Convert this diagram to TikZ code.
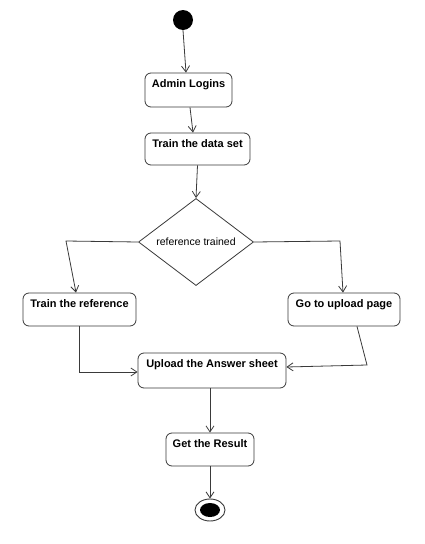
\documentclass[tikz,border=0pt]{standalone}
\usepackage{fontspec}
\setmainfont{Liberation Sans}
\usetikzlibrary{shapes.geometric,arrows.meta}
\definecolor{ln}{HTML}{3A3A3A}
\tikzset{
  act/.style={draw=ln, line width=0.8pt, fill=white, rounded corners=6pt, inner sep=3pt,
    text height=11pt, text depth=17pt, font=\bfseries\fontsize{11}{13}\selectfont, align=center},
  dec/.style={draw=ln, line width=0.8pt, fill=white, diamond, inner sep=0pt,
    font=\fontsize{10.5}{12}\selectfont},
  arr/.style={draw=ln, line width=0.8pt, -{Straight Barb[length=6pt,width=8pt]}},
}
\begin{document}
\begin{tikzpicture}[x=1pt,y=-1pt]
\useasboundingbox (0,0) rectangle (425,544);
\fill[white] (0,0) rectangle (425,544);
% start and end
\node[circle, fill=black, minimum size=20pt, inner sep=0pt] (start) at (183,20) {};
\node[act, minimum width=87pt, minimum height=34pt] (admin) at (188.5,90) {Admin Logins};
\node[act, minimum width=105pt, minimum height=32pt, text depth=15pt] (train) at (197.5,149) {Train the data set};
\node[dec, minimum width=115pt, minimum height=85pt] (d) at (196,242) {reference trained};
\node[act, minimum width=113pt, minimum height=33pt, text depth=16pt] (tref) at (79.5,309.5) {Train the reference};
\node[act, minimum width=112pt, minimum height=33pt, text depth=16pt] (goup) at (344,309.5) {Go to upload page};
\node[act, minimum width=148pt, minimum height=35pt, text depth=18pt] (upload) at (212,370.5) {Upload the Answer sheet};
\node[act, minimum width=88pt, minimum height=33pt, text depth=16pt] (result) at (210,449.5) {Get the Result};
\node[ellipse, draw=ln, line width=0.9pt, fill=white, minimum width=30pt, minimum height=22pt, inner sep=0pt] (end) at (210,510) {};
\node[ellipse, fill=black, minimum width=20pt, minimum height=14pt, inner sep=0pt] (endin) at (end.center) {};
% bends
\coordinate (c1) at (66,241);
\coordinate (c2) at (340,241);
\coordinate (c3) at (367,365);
% connectors
\draw[arr] (start.south) -- ([xshift=-2.5pt]admin.north);
\draw[arr] ([xshift=1.5pt]admin.south) -- ([xshift=-4.5pt]train.north);
\draw[arr] (train.south) -- (d.north);
\draw[arr] (d.west) -- (c1) -- ([xshift=-3.5pt]tref.north);
\draw[arr] (d.east) -- (c2) -- ([xshift=-1pt]goup.north);
\draw[arr] (tref.south) |- ([yshift=-1.5pt]upload.west);
\draw[arr] ([xshift=13pt]goup.south) -- (c3) -- ([yshift=3.5pt]upload.east);
\draw[arr] ([xshift=-2pt]upload.south) -- (result.north);
\draw[arr] (result.south) -- (end.north);
\end{tikzpicture}
\end{document}
